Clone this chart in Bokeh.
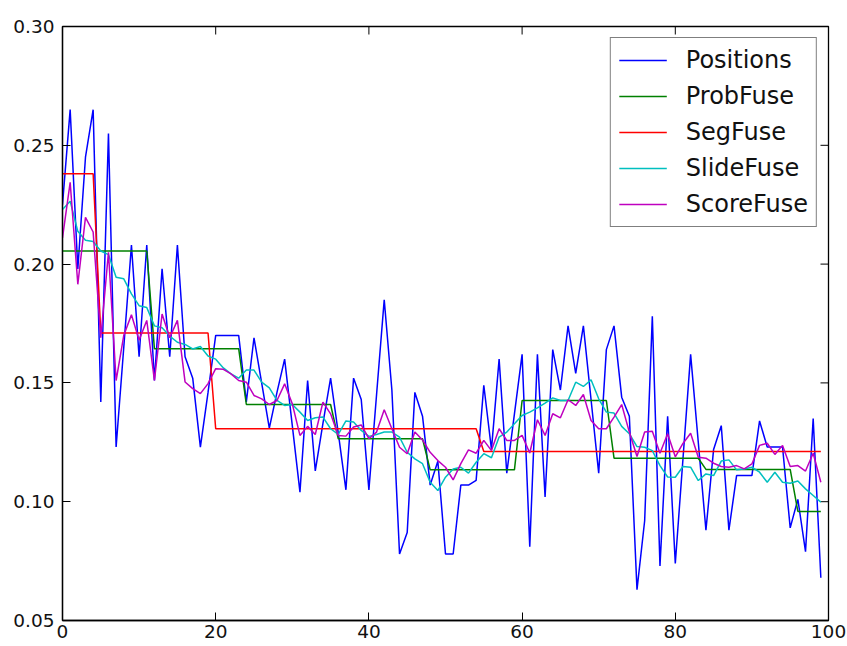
import math
from bokeh.plotting import figure
from bokeh.models import FixedTicker, NumeralTickFormatter, Legend, LegendItem, Range1d
from bokeh.embed import file_html
from bokeh.resources import INLINE

x = list(range(100))

positions = [
    0.225, 0.265, 0.198, 0.245, 0.265, 0.142, 0.255, 0.123, 0.165, 0.208,
    0.161, 0.208, 0.151, 0.198, 0.161, 0.208, 0.161, 0.152, 0.123, 0.146,
    0.170, 0.170, 0.170, 0.170, 0.142, 0.169, 0.150, 0.131, 0.146, 0.160,
    0.132, 0.104, 0.151, 0.113, 0.133, 0.152, 0.129, 0.105, 0.152, 0.143,
    0.105, 0.145, 0.185, 0.147, 0.078, 0.087, 0.146, 0.136, 0.107, 0.117,
    0.078, 0.078, 0.107, 0.107, 0.109, 0.149, 0.122, 0.160, 0.112, 0.137,
    0.162, 0.081, 0.162, 0.102, 0.164, 0.147, 0.174, 0.154, 0.174, 0.143,
    0.112, 0.164, 0.174, 0.144, 0.136, 0.063, 0.092, 0.178, 0.073, 0.136,
    0.074, 0.118, 0.162, 0.125, 0.088, 0.122, 0.132, 0.088, 0.111, 0.111,
    0.111, 0.134, 0.123, 0.123, 0.123, 0.089, 0.101, 0.079, 0.135, 0.068,
]

probfuse = [
    0.2055, 0.2055, 0.2055, 0.2055, 0.2055, 0.2055, 0.2055, 0.2055, 0.2055, 0.2055,
    0.2055, 0.2055, 0.1644, 0.1644, 0.1644, 0.1644, 0.1644, 0.1644, 0.1644, 0.1644,
    0.1644, 0.1644, 0.1644, 0.1644, 0.1409, 0.1409, 0.1409, 0.1409, 0.1409, 0.1409,
    0.1409, 0.1409, 0.1409, 0.1409, 0.1409, 0.1409, 0.1265, 0.1265, 0.1265, 0.1265,
    0.1265, 0.1265, 0.1265, 0.1265, 0.1265, 0.1265, 0.1265, 0.1265, 0.1134, 0.1134,
    0.1134, 0.1134, 0.1134, 0.1134, 0.1134, 0.1134, 0.1134, 0.1134, 0.1134, 0.1134,
    0.1426, 0.1426, 0.1426, 0.1426, 0.1426, 0.1426, 0.1426, 0.1426, 0.1426, 0.1426,
    0.1426, 0.1426, 0.1183, 0.1183, 0.1183, 0.1183, 0.1183, 0.1183, 0.1183, 0.1183,
    0.1183, 0.1183, 0.1183, 0.1183, 0.1136, 0.1136, 0.1136, 0.1136, 0.1136, 0.1136,
    0.1136, 0.1136, 0.1136, 0.1136, 0.1136, 0.1136, 0.0959, 0.0959, 0.0959, 0.0959,
]

segfuse = [
    0.238, 0.238, 0.238, 0.238, 0.238, 0.171, 0.171, 0.171, 0.171, 0.171,
    0.171, 0.171, 0.171, 0.171, 0.171, 0.171, 0.171, 0.171, 0.171, 0.171,
    0.1307, 0.1307, 0.1307, 0.1307, 0.1307, 0.1307, 0.1307, 0.1307, 0.1307, 0.1307,
    0.1307, 0.1307, 0.1307, 0.1307, 0.1307, 0.1307, 0.1307, 0.1307, 0.1307, 0.1307,
    0.1307, 0.1307, 0.1307, 0.1307, 0.1307, 0.1307, 0.1307, 0.1307, 0.1307, 0.1307,
    0.1307, 0.1307, 0.1307, 0.1307, 0.1307, 0.1211, 0.1211, 0.1211, 0.1211, 0.1211,
    0.1211, 0.1211, 0.1211, 0.1211, 0.1211, 0.1211, 0.1211, 0.1211, 0.1211, 0.1211,
    0.1211, 0.1211, 0.1211, 0.1211, 0.1211, 0.1211, 0.1211, 0.1211, 0.1211, 0.1211,
    0.1211, 0.1211, 0.1211, 0.1211, 0.1211, 0.1211, 0.1211, 0.1211, 0.1211, 0.1211,
    0.1211, 0.1211, 0.1211, 0.1211, 0.1211, 0.1211, 0.1211, 0.1211, 0.1211, 0.1211,
]

slidefuse = [
    0.223, 0.2265, 0.2138, 0.210, 0.2095, 0.2055, 0.204, 0.1945, 0.1938, 0.1875,
    0.1825, 0.1817, 0.174, 0.1732, 0.1697, 0.1671, 0.1662, 0.1643, 0.1653, 0.1613,
    0.160, 0.1563, 0.1538, 0.152, 0.1554, 0.1554, 0.1503, 0.1479, 0.1426, 0.1405,
    0.1409, 0.1377, 0.1342, 0.1353, 0.1356, 0.1307, 0.1283, 0.134, 0.1335, 0.130,
    0.1275, 0.1283, 0.1293, 0.1293, 0.1272, 0.1208, 0.118, 0.116, 0.1082, 0.1047,
    0.1103, 0.1138, 0.1145, 0.112, 0.1166, 0.1202, 0.1185, 0.1272, 0.1293, 0.1328,
    0.1363, 0.1377, 0.1395, 0.1415, 0.1437, 0.1426, 0.1426, 0.1503, 0.1485, 0.1513,
    0.1433, 0.1377, 0.1373, 0.1317, 0.1286, 0.1232, 0.1229, 0.1215, 0.1152, 0.1104,
    0.1103, 0.1148, 0.1145, 0.1089, 0.1117, 0.111, 0.1171, 0.1176, 0.1134, 0.1138,
    0.1145, 0.1124, 0.1082, 0.1124, 0.1082, 0.1078, 0.1087, 0.1054, 0.1026, 0.0998,
]

scorefuse = [
    0.211, 0.2344, 0.1915, 0.2197, 0.2135, 0.169, 0.205, 0.151, 0.170, 0.1787,
    0.168, 0.1763, 0.151, 0.179, 0.169, 0.1763, 0.1504, 0.1476, 0.1455, 0.1497,
    0.156, 0.1557, 0.1538, 0.151, 0.1503, 0.1447, 0.1433, 0.1409, 0.1426, 0.1496,
    0.1412, 0.1279, 0.1317, 0.1283, 0.1419, 0.137, 0.1279, 0.1276, 0.1314, 0.1323,
    0.1265, 0.1293, 0.1387, 0.1307, 0.1229, 0.1202, 0.1293, 0.126, 0.1208, 0.1173,
    0.1145, 0.1092, 0.116, 0.1218, 0.1204, 0.1258, 0.1215, 0.1307, 0.1258, 0.1258,
    0.1279, 0.1205, 0.1345, 0.1279, 0.137, 0.1353, 0.1429, 0.1405, 0.1451, 0.1342,
    0.1307, 0.1307, 0.1356, 0.1409, 0.1293, 0.119, 0.1293, 0.1297, 0.1204, 0.1286,
    0.1189, 0.1245, 0.1288, 0.1187, 0.1183, 0.1162, 0.1148, 0.1145, 0.1152, 0.1138,
    0.1159, 0.1237, 0.1246, 0.1199, 0.1237, 0.1148, 0.1152, 0.1129, 0.1204, 0.1082,
]

series_names = ["Positions", "ProbFuse", "SegFuse", "SlideFuse", "ScoreFuse"]
series_values = [positions, probfuse, segfuse, slidefuse, scorefuse]
series_colors = ["#0000ff", "#008000", "#ff0000", "#00bfbf", "#bf00bf"]

x_ticks = [0, 20, 40, 60, 80, 100]
y_ticks = [0.05, 0.10, 0.15, 0.20, 0.25, 0.30]

FONT = "DejaVu Sans"
TICK_SIZE = "18.5px"
TICK_LEN = 8

p = figure(width=847, height=646, output_backend="svg", toolbar_location=None,
           x_range=Range1d(x_ticks[0], x_ticks[-1]), y_range=Range1d(y_ticks[0], y_ticks[-1]),
           min_border_left=62, min_border_right=19, min_border_top=26, min_border_bottom=26)
p.background_fill_color = "white"
p.border_fill_color = "white"
p.outline_line_color = "black"
p.outline_line_width = 1.3
p.xgrid.visible = False
p.ygrid.visible = False

for ax in (p.xaxis[0], p.yaxis[0]):
    ax.axis_line_color = "black"
    ax.axis_line_width = 1.3
    ax.major_tick_in = TICK_LEN
    ax.major_tick_out = 0
    ax.minor_tick_line_color = None
    ax.major_tick_line_color = "black"
    ax.major_tick_line_width = 1
    ax.major_label_text_font = FONT
    ax.major_label_text_font_size = TICK_SIZE
    ax.major_label_text_color = "#111111"

p.xaxis.ticker = FixedTicker(ticks=x_ticks)
p.yaxis.ticker = FixedTicker(ticks=y_ticks)
p.yaxis.formatter = NumeralTickFormatter(format="0.00")
p.xaxis.major_label_standoff = 4
p.yaxis.major_label_standoff = 8

# mirrored inward ticks on the top and right edges (classic matplotlib look)
p.ray(x=x_ticks, y=[y_ticks[-1]] * len(x_ticks), length=TICK_LEN, length_units="screen",
      angle=-math.pi / 2, line_color="black", line_width=1)
p.ray(x=[x_ticks[-1]] * len(y_ticks), y=y_ticks, length=TICK_LEN, length_units="screen",
      angle=math.pi, line_color="black", line_width=1)

items = []
for name, vals, col in zip(series_names, series_values, series_colors):
    r = p.line(x, vals, line_color=col, line_width=1.5)
    items.append(LegendItem(label=name, renderers=[r]))

legend = Legend(items=items, location="top_right")
legend.label_text_font = FONT
legend.label_text_font_size = "24px"
legend.label_text_color = "#111111"
legend.glyph_width = 48
legend.glyph_height = 26
legend.label_height = 26
legend.label_standoff = 19
legend.spacing = 8
legend.padding = 8
legend.margin = 11
legend.border_line_color = "black"
legend.border_line_width = 1.2
legend.background_fill_color = "white"
legend.background_fill_alpha = 1.0
p.add_layout(legend)

open("out.html", "w").write(file_html(p, INLINE))
